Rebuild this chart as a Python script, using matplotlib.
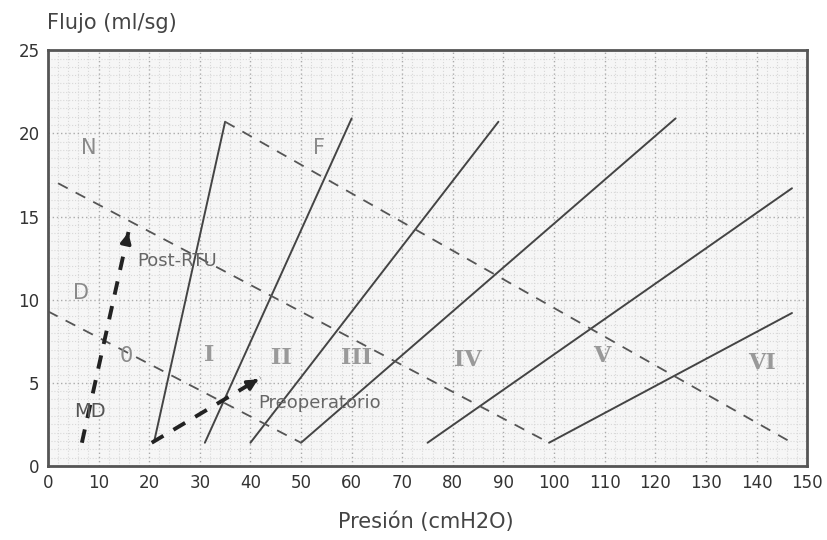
import matplotlib
matplotlib.use("Agg")
import matplotlib.pyplot as plt
import numpy as np

# Solid class boundary lines (presión, flujo)
solid_x = [[21, 35], [31, 60], [40, 89], [50, 124], [75, 147], [99, 147]]
solid_y = [[1.5, 20.7], [1.4, 20.9], [1.4, 20.7], [1.4, 20.9], [1.4, 16.7], [1.4, 9.2]]

# Dashed boundary lines
dashed_x = [[35, 147], [2, 99], [0, 50]]
dashed_y = [[20.7, 1.4], [17.0, 1.4], [9.3, 1.4]]

# Patient trajectories (thick dashed arrows)
md_x = [6.7, 16.0]
md_y = [1.4, 14.2]
pre_x = [20.5, 42.0]
pre_y = [1.4, 5.3]

# Zone labels
zone_labels = ["N", "F", "D", "0", "I", "II", "III", "IV", "V", "VI"]
zone_x = [8, 53.5, 6.5, 15.5, 31.8, 46.2, 61.0, 83.0, 109.5, 141.0]
zone_y = [19.1, 19.1, 10.4, 6.6, 6.7, 6.5, 6.5, 6.4, 6.6, 6.2]

xticks = list(range(0, 151, 10))
yticks = [0, 5, 10, 15, 20, 25]

SANS = "DejaVu Sans"

fig = plt.figure(figsize=(8.27, 5.40), dpi=100)
ax = fig.add_axes([0.058, 0.137, 0.918, 0.770])
ax.set_xlim(0, 150)
ax.set_ylim(0, 25)
ax.set_facecolor("#f6f6f6")

ax.set_xticks(np.arange(0, 151, 2), minor=True)
ax.set_yticks(np.arange(0, 25.1, 0.5), minor=True)
ax.grid(which="minor", color="#d8d8d8", linestyle=":", linewidth=0.8)
ax.grid(which="major", color="#aaaaaa", linestyle=(0, (1, 2)), linewidth=1.0)
ax.set_axisbelow(True)

ax.set_xticks(xticks)
ax.set_yticks(yticks)
ax.set_xticklabels([str(v) for v in xticks], fontsize=12, family=SANS, color="#333333")
ax.set_yticklabels([str(v) for v in yticks], fontsize=12, family=SANS, color="#333333")
ax.tick_params(which="both", length=0, pad=6)

for s in ax.spines.values():
    s.set_color("#555555")
    s.set_linewidth(2.0)

for xs, ys in zip(solid_x, solid_y):
    ax.plot(xs, ys, color="#444444", lw=1.4, solid_capstyle="round")
for xs, ys in zip(dashed_x, dashed_y):
    ax.plot(xs, ys, color="#555555", lw=1.3, linestyle=(0, (6, 5)))

for xs, ys in [(md_x, md_y), (pre_x, pre_y)]:
    ax.plot(xs, ys, color="#222222", lw=2.8, linestyle=(0, (3.5, 3)))
    ax.annotate("", xy=(xs[1], ys[1]), xytext=(xs[0] + 0.93 * (xs[1] - xs[0]), ys[0] + 0.93 * (ys[1] - ys[0])),
                arrowprops=dict(arrowstyle="-|>,head_length=0.6,head_width=0.3", color="#222222", lw=2.5))

for lab, x, y in zip(zone_labels, zone_x, zone_y):
    roman = lab in ("I", "II", "III", "IV", "V", "VI")
    if roman:
        ax.text(x, y, lab, ha="center", va="center", fontsize=16, family="DejaVu Serif",
                fontweight="bold", color="#999999")
    else:
        ax.text(x, y, lab, ha="center", va="center", fontsize=15, family=SANS, color="#8a8a8a")

ax.text(8.2, 3.3, "MD", ha="center", va="center", fontsize=14, family=SANS, color="#555555")
ax.text(17.6, 12.3, "Post-RTU", ha="left", va="center", fontsize=13, family=SANS, color="#666666")
ax.text(41.5, 3.8, "Preoperatorio", ha="left", va="center", fontsize=13, family=SANS, color="#666666")

fig.text(0.057, 0.958, "Flujo (ml/sg)", ha="left", va="center", fontsize=15, family=SANS, color="#444444")
fig.text(0.515, 0.034, "Presión (cmH2O)", ha="center", va="center", fontsize=15, family=SANS, color="#444444")

fig.savefig("out.png", dpi=100, facecolor="white")
